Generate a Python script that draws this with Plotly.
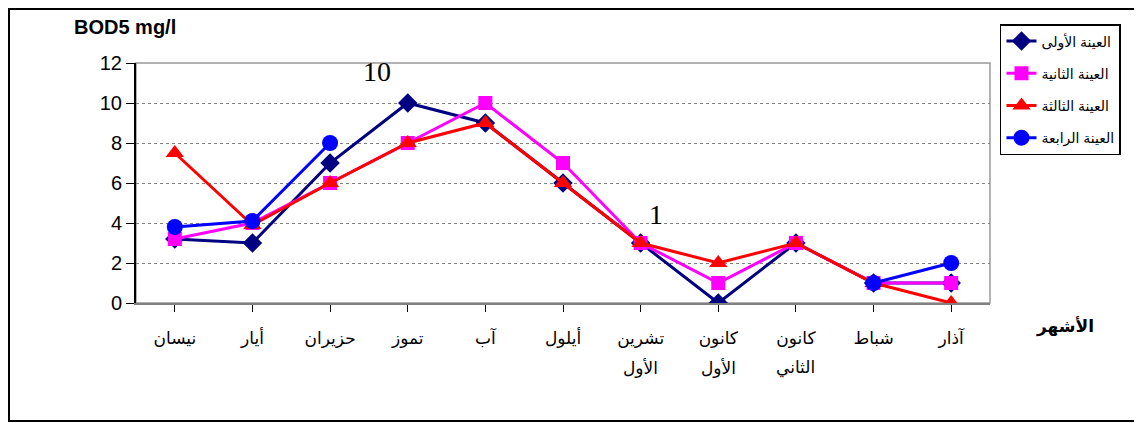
import plotly.graph_objects as go

months = ["نيسان", "أيار", "حزيران", "تموز", "آب", "أيلول", "تشرين",
          "كانون", "كانون", "شباط", "آذار"]
months_line2 = ["", "", "", "", "", "", "الأول", "الأول", "الثاني", "", ""]

sample1 = [3.2, 3.0, 7, 10, 9, 6, 3, 0, 3, 1, 1]
sample2 = [3.2, 4, 6, 8, 10, 7, 3, 1, 3, 1, 1]
sample3 = [7.5, 3.9, 6, 8, 9, 6, 3, 2, 3, 1, 0]
sample4 = [3.8, 4.1, 8, None, None, None, None, None, None, 1, 2]

names = ["العينة الأولى", "العينة الثانية", "العينة الثالثة", "العينة الرابعة"]
colors = ["#000080", "#FF00FF", "#FF0000", "#0000FF"]
symbols = ["diamond", "square", "triangle-up", "circle"]
sizes = [15, 14, 16, 16]

x = list(range(len(months)))

fig = go.Figure()
for i, (vals, name, col, sym, sz) in enumerate(zip(
        [sample1, sample2, sample3, sample4], names, colors, symbols, sizes)):
    fig.add_trace(go.Scatter(
        x=x, y=vals, name=name, mode="lines+markers",
        line=dict(color=col, width=3),
        marker=dict(symbol=sym, size=sz, color=col),
        connectgaps=False, legendgroup=str(i),
    ))

serif = "Liberation Serif, Times New Roman"
annotations = [
    dict(text="<b>BOD5 mg/l</b>", xref="paper", yref="paper",
         x=-0.0129, y=1.15, showarrow=False, font=dict(size=20)),
    dict(text="<b>الأشهر</b>", xref="paper", yref="paper",
         x=1.0878, y=-0.096, showarrow=False, font=dict(size=17)),
    dict(text="10", xref="paper", yref="paper", x=0.282, y=0.9625,
         showarrow=False, font=dict(size=28, family=serif)),
    dict(text="1", xref="paper", yref="paper", x=0.609, y=0.367,
         showarrow=False, font=dict(size=28, family=serif)),
]
for xi, t in zip(x, months_line2):
    if t:
        annotations.append(dict(text=t, x=xi, xref="x", yref="paper",
                                y=-0.271, showarrow=False,
                                font=dict(size=17)))
for a in annotations:
    a["xanchor"] = "center"
    a["yanchor"] = "middle"

fig.update_layout(
    width=1134, height=415,
    margin=dict(l=128, r=152, t=55, b=120),
    paper_bgcolor="white", plot_bgcolor="white",
    font=dict(family="Liberation Sans, Arial, DejaVu Sans", color="black"),
    legend=dict(
        x=1.0117, y=1.1625, xanchor="left", yanchor="top",
        bordercolor="black", borderwidth=1.5, bgcolor="white",
        font=dict(size=14), tracegroupgap=11,
    ),
    xaxis=dict(
        range=[-0.5, 10.5], tickmode="array", tickvals=x, ticktext=months,
        tickson="boundaries", ticks="outside", ticklen=7, tickcolor="black",
        showline=True, linecolor="#808080", linewidth=2,
        showgrid=False, zeroline=False, tickfont=dict(size=17),
        ticklabelstandoff=12,
    ),
    yaxis=dict(
        range=[0, 12], dtick=2, ticks="outside", ticklen=8, tickcolor="black",
        showline=True, linecolor="black", linewidth=2,
        showgrid=True, gridcolor="#808080", griddash="dot", gridwidth=1,
        zeroline=False, tickfont=dict(size=20),
    ),
    shapes=[
        dict(type="rect", xref="paper", yref="paper", x0=0, x1=1, y0=0, y1=1,
             line=dict(color="#999999", width=1.5), layer="below"),
        dict(type="rect", xref="paper", yref="paper",
             x0=-0.1487, x1=1.1815, y0=-0.4917, y1=1.225,
             line=dict(color="black", width=2)),
    ],
    annotations=annotations,
)

fig.write_html("out.html")
